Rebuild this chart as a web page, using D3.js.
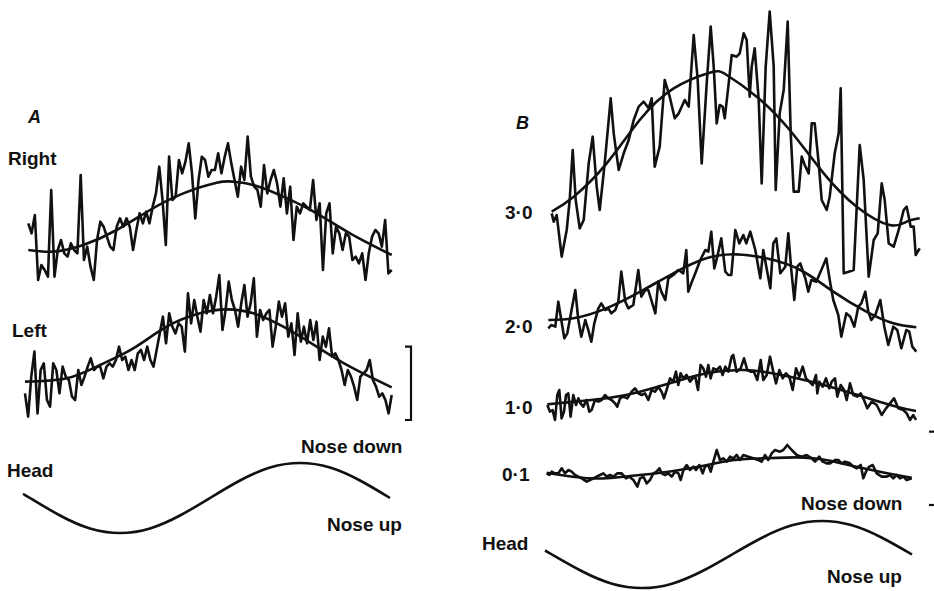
<!DOCTYPE html>
<meta charset="utf-8">
<style>

    body {
        margin: 0;
        background: #fff;
    }

    text {
        fill: #111;
        font-family: "Liberation Sans", Arial, Helvetica, sans-serif;
        font-weight: bold;
        font-size: 19px;
    }

    text.panel {
        font-style: italic;
        font-size: 18px;
    }

    path.trace {
        fill: none;
        stroke: #111;
        stroke-width: 2.6;
        stroke-linejoin: round;
    }

    path.fit, path.head {
        fill: none;
        stroke: #111;
        stroke-width: 2.6;
    }

    path.bar {
        fill: none;
        stroke: #111;
        stroke-width: 2.2;
    }

</style>
<body>
<script src="https://cdn.jsdelivr.net/npm/d3@7"></script>
<script>
    var width = 934,
        height = 591;

    // firing modulation, one cycle of head tilt (phase in deg, rate in arbitrary units)
    // panel A, evenly sampled over the cycle
    var rightRate = [19, 16, 21.5, 2, 6.5, 5, 3, 29, 3, 11, 14, 10, 9, 13, 11, 10, 33.5, 8, 12, 6,
        2, 14, 19.5, 18, 15, 12, 11, 18, 20.5, 18, 20.5, 18, 11, 17, 22, 19, 22.5, 19, 24, 28,
        36, 26, 12.5, 39, 26, 27, 38, 34, 37.5, 43, 34, 20.5, 32, 39, 38, 33, 35, 35, 40, 34,
        39, 43, 37, 32, 27, 36, 32, 45, 33, 30, 29, 24, 36.5, 28, 32, 35, 31, 24, 32.5, 22,
        30, 14, 24, 22, 25, 24, 23, 32, 20, 25, 5, 22, 25, 10, 18, 16, 11, 16, 15, 8,
        9, 7, 10, 2, 10, 15, 17, 16, 12, 20, 4, 5];
    var rightFit = [[0, 11], [25, 10.5], [55, 12.5], [88.4, 17], [121.7, 23], [155, 28], [188.4, 31.2],
        [205, 31.5], [225, 30.5], [255, 27], [288.4, 22], [321.7, 16], [363.4, 9.5]];

    var leftRate = [12, 5, 17, 24.5, 6, 19, 21, 10, 8, 21, 19, 12, 20, 17, 16, 11, 10, 19, 14.5, 17,
        20, 22.5, 19, 20, 20, 16.5, 20, 21, 20, 22, 26, 22, 23, 19, 22, 19, 24, 25, 22, 26,
        22, 20, 25, 30, 35, 27, 36, 32, 30, 33, 32, 24.5, 42, 33, 40, 35, 30.5, 40, 36, 41.5,
        36, 41, 47.5, 31, 37, 45.5, 40, 37, 32, 39, 44.5, 35, 39, 46.5, 29, 37, 34, 36, 37, 26,
        32, 39.5, 35, 39, 29, 33, 23.5, 36, 27.5, 32, 27, 34, 28, 33.5, 22, 29, 26, 31.5, 23, 24,
        22, 19, 14.5, 19, 17, 14, 10, 17, 18, 19, 22, 16, 14, 11, 12, 10, 6, 11.5];
    var leftFit = [[0, 15.5], [41.7, 16.5], [75, 20.5], [108.3, 25.5], [141.7, 32], [175, 36],
        [201.7, 37.2], [228.3, 36], [258.3, 32], [291.7, 26], [325, 20], [366.7, 13.8]];

    // panel B, [phase, rate]
    var rate30 = [[0, 21], [2, 18.5], [5, 20.5], [10, 8], [15, 16], [18, 25], [21, 40], [24, 25], [28, 16.5], [32, 19],
        [37, 36], [41, 44], [45, 29], [48, 22], [53, 36], [59, 55.5], [62, 45], [67, 34], [72, 39], [77, 43],
        [82, 49], [87, 53], [92, 54.5], [97, 52.5], [100, 55.5], [103, 35], [108, 41], [113, 61], [118, 56], [123, 49.5],
        [127, 51], [130, 53], [133, 55], [137, 53], [142, 74.5], [146, 61], [150, 36], [155, 60], [159, 77], [162, 65],
        [165, 48], [168, 53.5], [171, 53], [173, 49.5], [177, 60], [180, 68.5], [185, 68], [188, 69], [192, 75], [195, 73],
        [198, 56], [200, 65], [203, 70.5], [207, 55], [210, 30], [214, 65], [218, 81.5], [222, 65], [224, 28], [228, 51],
        [232, 58], [236, 78.5], [239, 45], [242, 27.5], [247, 27.5], [250, 38], [253, 35.5], [257, 33], [260, 48], [263, 48],
        [267, 36], [270, 25], [275, 22], [278, 26], [283, 39], [287, 45], [289, 58.5], [292, 3], [297, 3.5], [302, 4],
        [308, 41.5], [312, 31], [317, 2], [322, 13], [326, 15], [330, 30], [333, 25], [337, 12], [342, 11], [347, 16],
        [352, 22], [355, 23], [359, 17], [362, 17], [364, 8.5], [368, 10.5]];
    var fit30 = [[0, 21.5], [22, 26], [55, 36], [88, 49], [122, 58.5], [158, 63.2], [175, 62.5], [205, 56],
        [238, 46], [272, 33], [305, 23], [338, 17.5], [355, 18.5], [368, 19.5]];

    var rate20 = [[0, 9.5], [3, 10.5], [7, 10], [10, 17.5], [13, 12], [16, 6.5], [19, 8], [22, 13], [27, 21], [30, 12],
        [33, 7], [37, 12], [40, 9], [43, 5.5], [46, 11], [50, 15.5], [53, 17], [57, 15], [60, 15.5], [63, 14],
        [67, 15], [70, 17.5], [73, 26.5], [77, 17.5], [80, 15.5], [85, 16.5], [90, 27], [93, 19], [97, 21], [100, 21],
        [103, 18], [107, 14], [110, 23.5], [113, 20.5], [117, 18], [120, 24.5], [125, 25.5], [130, 27], [135, 26], [138, 33],
        [140, 20.5], [143, 23], [147, 26], [152, 30], [157, 33], [160, 32.5], [163, 38.5], [166, 27.5], [169, 31], [173, 36.5],
        [177, 26.5], [180, 25.5], [183, 25.5], [187, 39], [191, 35], [195, 37.5], [198, 35], [202, 38.5], [207, 33], [212, 24.5],
        [215, 33], [218, 28], [222, 21.5], [225, 35], [228, 36.5], [232, 26], [237, 28], [240, 38], [243, 27], [246, 18],
        [249, 28], [252, 29], [257, 24.5], [260, 20.5], [263, 24], [268, 23.5], [273, 27], [278, 30.5], [282, 23], [285, 18],
        [290, 13.5], [293, 7], [298, 14], [302, 13], [306, 10], [310, 16], [313, 17], [317, 20.5], [320, 14.5], [323, 12],
        [327, 13.5], [332, 18], [336, 10], [340, 4.5], [345, 10], [349, 9], [353, 3.5], [358, 9], [361, 8.5], [364, 4],
        [368, 2.5]];
    var fit20 = [[0, 12], [25, 12.5], [58, 15.5], [92, 20.5], [125, 26], [158, 30.5], [188, 31.7], [218, 30.5],
        [252, 27], [285, 20.5], [318, 14.5], [345, 11], [368, 9.8]];

    var rate10 = [[0, 6], [2.7, 4], [5.3, 4.5], [7.7, 1.5], [10, 9], [12, 10.5], [14.3, 2], [16.7, 4], [18.7, 9], [21, 9.5],
        [23.3, 2.5], [26, 9], [28.7, 6], [31, 8], [33.3, 6.5], [36, 5.5], [39.3, 7.5], [42, 4], [44.3, 4.5], [47.7, 7.5],
        [51, 7], [54.3, 7.5], [57.7, 9], [61, 8], [64.3, 7.5], [67.7, 6.5], [70, 5.5], [72.7, 8], [76, 8.5], [80, 8],
        [84.3, 10], [87.7, 11], [91, 9.5], [94.3, 9], [97.7, 9.5], [101, 7.5], [104.3, 10.5], [107.7, 10], [111, 11.5], [114.3, 10],
        [116.7, 8], [119.3, 10.5], [122.7, 14], [126, 13], [128.7, 16], [131, 12], [133.3, 15.5], [136, 14], [139.3, 15], [142.7, 13],
        [145.3, 14], [148, 14.5], [150.7, 10.5], [153.3, 18], [156, 17], [158.7, 14.5], [161, 18], [163.3, 14], [166, 17], [169.3, 16.5],
        [172.7, 17.5], [175.3, 15], [178, 17.5], [181, 16], [184.3, 20.5], [186, 21], [189.3, 16], [193.4, 17], [196.7, 20], [200, 16.5],
        [203.3, 16], [206.7, 16], [210, 13.5], [213.4, 19.5], [216, 13.5], [219.4, 15], [222.7, 20.5], [226, 16], [228.7, 12.5], [232, 16.5],
        [235.4, 14], [238.7, 15.5], [242, 14.5], [245.4, 10.5], [248.7, 17], [252, 14.5], [255.4, 17.5], [258.7, 14], [262, 13], [265.4, 12],
        [268.7, 15], [270, 9.5], [272, 13], [275.4, 11.5], [278.7, 14], [282, 11], [284.4, 13], [287.7, 14], [290, 8.5], [293.4, 12],
        [296.7, 10.5], [299.4, 7.5], [302.7, 12.5], [306, 9], [310, 8.5], [313.4, 9.5], [316.7, 7.5], [320, 5], [324.4, 7], [329.4, 6],
        [334.4, 3], [338.7, 5], [342.7, 6.5], [346.7, 8], [351, 5], [356, 4.5], [359.4, 3.5], [362.7, 1.5], [366, 3], [368.7, 1.5]];
    var fit10 = [[0, 6.2], [59.3, 8], [92.7, 10], [126, 12.8], [159.3, 15.5], [192.7, 16.5], [216, 16],
        [249.4, 14], [282.7, 11.5], [316, 8.5], [349.4, 5.5], [368.7, 4.2]];

    var rate01 = [[0, 3], [2.7, 2.5], [5, 3.5], [8.3, 3], [11.7, 3], [15, 4.5], [18.3, 3], [21.7, 4], [25, 3.5], [28.3, 2.5],
        [31.7, 2], [35, 1.5], [40, 0.5], [43.3, 1], [46.7, 1.5], [50, 2], [53.3, 2.5], [56.7, 3], [60, 2], [63.3, 2.5],
        [66.7, 2], [70.7, 3], [75, 3], [79.3, 1.5], [82.7, 2], [86.7, 1], [90.7, -1], [93.3, 1.5], [96.7, 2], [100, 0],
        [103.3, 1], [106.7, 3], [110, 3.5], [112.7, 4.5], [115, 3], [118.3, 2.5], [121.7, 3], [125, 2], [128.3, 3.5], [131.7, 3],
        [134, 1], [136.7, 4], [140, 5.5], [143.3, 4], [146.7, 5], [149.3, 4], [152.7, 5.5], [156, 3], [158.3, 5], [161.7, 5.5],
        [164, 3.5], [166.7, 6.5], [170, 10], [173.3, 7], [176.7, 7.5], [180, 6.5], [183.3, 8], [186.7, 7.5], [190, 8.5], [193.3, 7],
        [196.6, 8.5], [201.6, 8], [206.6, 7.5], [211.6, 7], [215, 6.5], [218.3, 8.5], [221.6, 7], [225, 9], [228.3, 10], [233.3, 9.5],
        [236.6, 10], [240.6, 11.5], [245, 10], [250, 8.5], [255, 8], [260, 8.5], [265, 7.5], [268.3, 6.5], [272.6, 8], [276, 6.5],
        [280, 6], [283.3, 6], [288.3, 7], [291.6, 7], [295, 6], [298.3, 6.5], [303.3, 6], [306.6, 5], [310, 4.5], [314, 5.5],
        [316.6, 1.5], [320, 4], [322.6, 5], [326, 5.5], [330, 3], [335, 2], [340, 2], [343.3, 2.5], [346.6, 1.5], [350, 2.5],
        [353.3, 1.5], [356.6, 2], [360, 1], [365, 1.5]];
    var fit01 = [[0, 3.2], [43.3, 1.5], [76.7, 2], [110, 3], [143.3, 4.5], [176.7, 6.5], [193.3, 7.2],
        [216.6, 7.5], [250, 7.8], [266.6, 7.5], [283.3, 6.8], [316.6, 4.5], [350, 2.5], [365, 1.7]];

    // head position (-1 nose up, +1 nose down)
    var headPhase = [0, 7, 37, 67, 97, 127, 157, 187, 217, 247, 277, 307, 337, 367];
    var headPos = [0.12, 0, -0.5, -0.87, -1, -0.87, -0.5, 0, 0.5, 0.87, 1, 0.87, 0.5, 0];

    // scale bar, same rate units as traces
    var scaleBar = [4, 26];
    var scaleBarB = [-6.5, 15.5];

    var svg = d3.select("body").append("svg")
            .attr("width", width)
            .attr("height", height);

    var unitPx = 10 / 3;

    function phaseScale(x0) {
        return d3.scaleLinear().domain([0, 360]).range([x0, x0 + 360]);
    }

    function rateScale(base) {
        return d3.scaleLinear().domain([0, 45]).range([base, base - 45 * unitPx]);
    }

    function drawTrace(pairs, x, y, cls, curve) {
        var line = d3.line()
                .x(function(d) { return x(d[0]); })
                .y(function(d) { return y(d[1]); })
                .curve(curve || d3.curveLinear);
        svg.append("path")
                .attr("class", cls)
                .datum(pairs)
                .attr("d", line);
    }

    function evenPairs(values, span) {
        return values.map(function(v, i) {
            return [i * span / (values.length - 1), v];
        });
    }

    function headPairs() {
        return headPhase.map(function(p, i) { return [p, headPos[i]]; });
    }

    // ---- panel A
    var xRight = phaseScale(28.3),
        yRight = rateScale(286.67);
    drawTrace(evenPairs(rightRate, 363.4), xRight, yRight, "trace");
    drawTrace(rightFit, xRight, yRight, "fit", d3.curveNatural);

    var xLeft = phaseScale(25),
        yLeft = rateScale(433.33);
    drawTrace(evenPairs(leftRate, 366.7), xLeft, yLeft, "trace");
    drawTrace(leftFit, xLeft, yLeft, "fit", d3.curveNatural);

    var xHeadA = phaseScale(23),
        yHeadA = d3.scaleLinear().domain([-1, 1]).range([533, 463]);
    drawTrace(headPairs(), xHeadA, yHeadA, "head", d3.curveNatural);

    var barX = 411;
    svg.append("path")
            .attr("class", "bar")
            .attr("d", "M" + (barX - 6) + "," + yLeft(scaleBar[1]) +
                    "H" + barX + "V" + yLeft(scaleBar[0]) + "H" + (barX - 6));

    // ---- panel B
    var traces = [
        {data: rate30, fit: fit30, x0: 551.7, base: 283.33},
        {data: rate20, fit: fit20, x0: 548.3, base: 360},
        {data: rate10, fit: fit10, x0: 547.3, base: 425},
        {data: rate01, fit: fit01, x0: 546.7, base: 483.33}
    ];
    traces.forEach(function(t) {
        var x = phaseScale(t.x0),
            y = rateScale(t.base);
        drawTrace(t.data, x, y, "trace");
        drawTrace(t.fit, x, y, "fit", d3.curveNatural);
    });

    var xHeadB = phaseScale(545),
        yHeadB = d3.scaleLinear().domain([-1, 1]).range([588, 521]);
    drawTrace(headPairs(), xHeadB, yHeadB, "head", d3.curveNatural);

    var y01 = rateScale(483.33);
    svg.selectAll("path.tickB")
            .data(scaleBarB)
        .enter().append("path")
            .attr("class", "bar tickB")
            .attr("d", function(d) { return "M929," + y01(d) + "H934"; });

    // ---- labels
    var labels = [
        {t: "A", x: 28, y: 123, c: "panel"},
        {t: "Right", x: 8, y: 165},
        {t: "Left", x: 12, y: 337},
        {t: "Nose down", x: 301, y: 453},
        {t: "Head", x: 7, y: 477},
        {t: "Nose up", x: 327, y: 531},
        {t: "B", x: 516, y: 129, c: "panel"},
        {t: "3·0", x: 505, y: 219},
        {t: "2·0", x: 505, y: 333},
        {t: "1·0", x: 505, y: 414},
        {t: "0·1", x: 502, y: 481},
        {t: "Nose down", x: 801, y: 510},
        {t: "Head", x: 482, y: 550},
        {t: "Nose up", x: 827, y: 583}
    ];
    svg.selectAll("text.label")
            .data(labels)
        .enter().append("text")
            .attr("class", function(d) { return "label " + (d.c || ""); })
            .attr("x", function(d) { return d.x; })
            .attr("y", function(d) { return d.y; })
            .text(function(d) { return d.t; });

</script>
